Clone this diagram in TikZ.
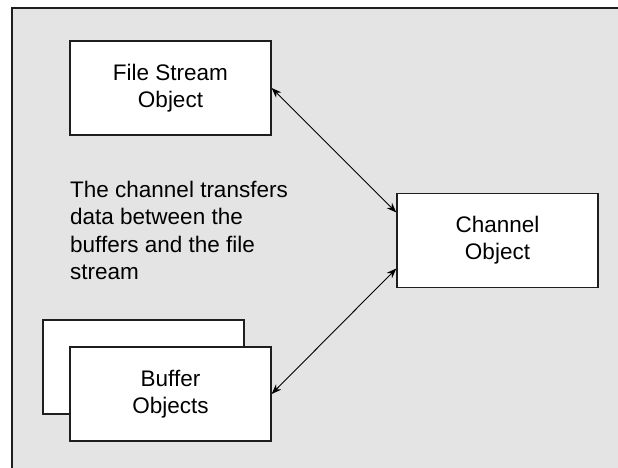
\documentclass[tikz,border=0pt]{standalone}
\usepackage{fontspec}
\setmainfont{Liberation Sans}
\usetikzlibrary{arrows.meta,positioning}
\definecolor{panel}{HTML}{E4E4E4}
\definecolor{rim}{HTML}{1E1E1E}

\begin{document}
\begin{tikzpicture}[
  x=1bp, y=-1bp,
  font=\fontsize{22.5bp}{27.3bp}\selectfont,
  >={Stealth[length=10bp, width=7.5bp]},
  obj/.style={draw=rim, fill=white, line width=1.3bp, align=center, minimum width=201bp, minimum height=94bp, inner sep=0pt},
  note/.style={align=left, inner sep=0pt, anchor=north west},
  link/.style={<->, draw=black, line width=0.9bp}
]
\useasboundingbox (0,0) rectangle (618,468);
\clip (0,0) rectangle (618,468);
% panel runs off the right and bottom edges
\fill[panel] (12,8) rectangle (700,520);
\draw[draw=rim, line width=2bp] (12,520) -- (12,8) -- (700,8);

\node[obj] (fs) at (170.5,88) {File Stream\\Object};
\node[obj] (ch) at (497.5,240.5) {Channel\\Object};
\node[obj] (bufback) at (143.5,367) {};
\node[obj] (buf) at (170.5,394) {Buffer\\Objects};

\node[note] (txt) at (70,181) {The channel transfers\\data between the\\buffers and the file\\stream};

\draw[link] (fs.east) -- ([yshift=28bp]ch.west);
\draw[link] ([yshift=-28bp]ch.west) -- (buf.east);
\end{tikzpicture}
\end{document}
